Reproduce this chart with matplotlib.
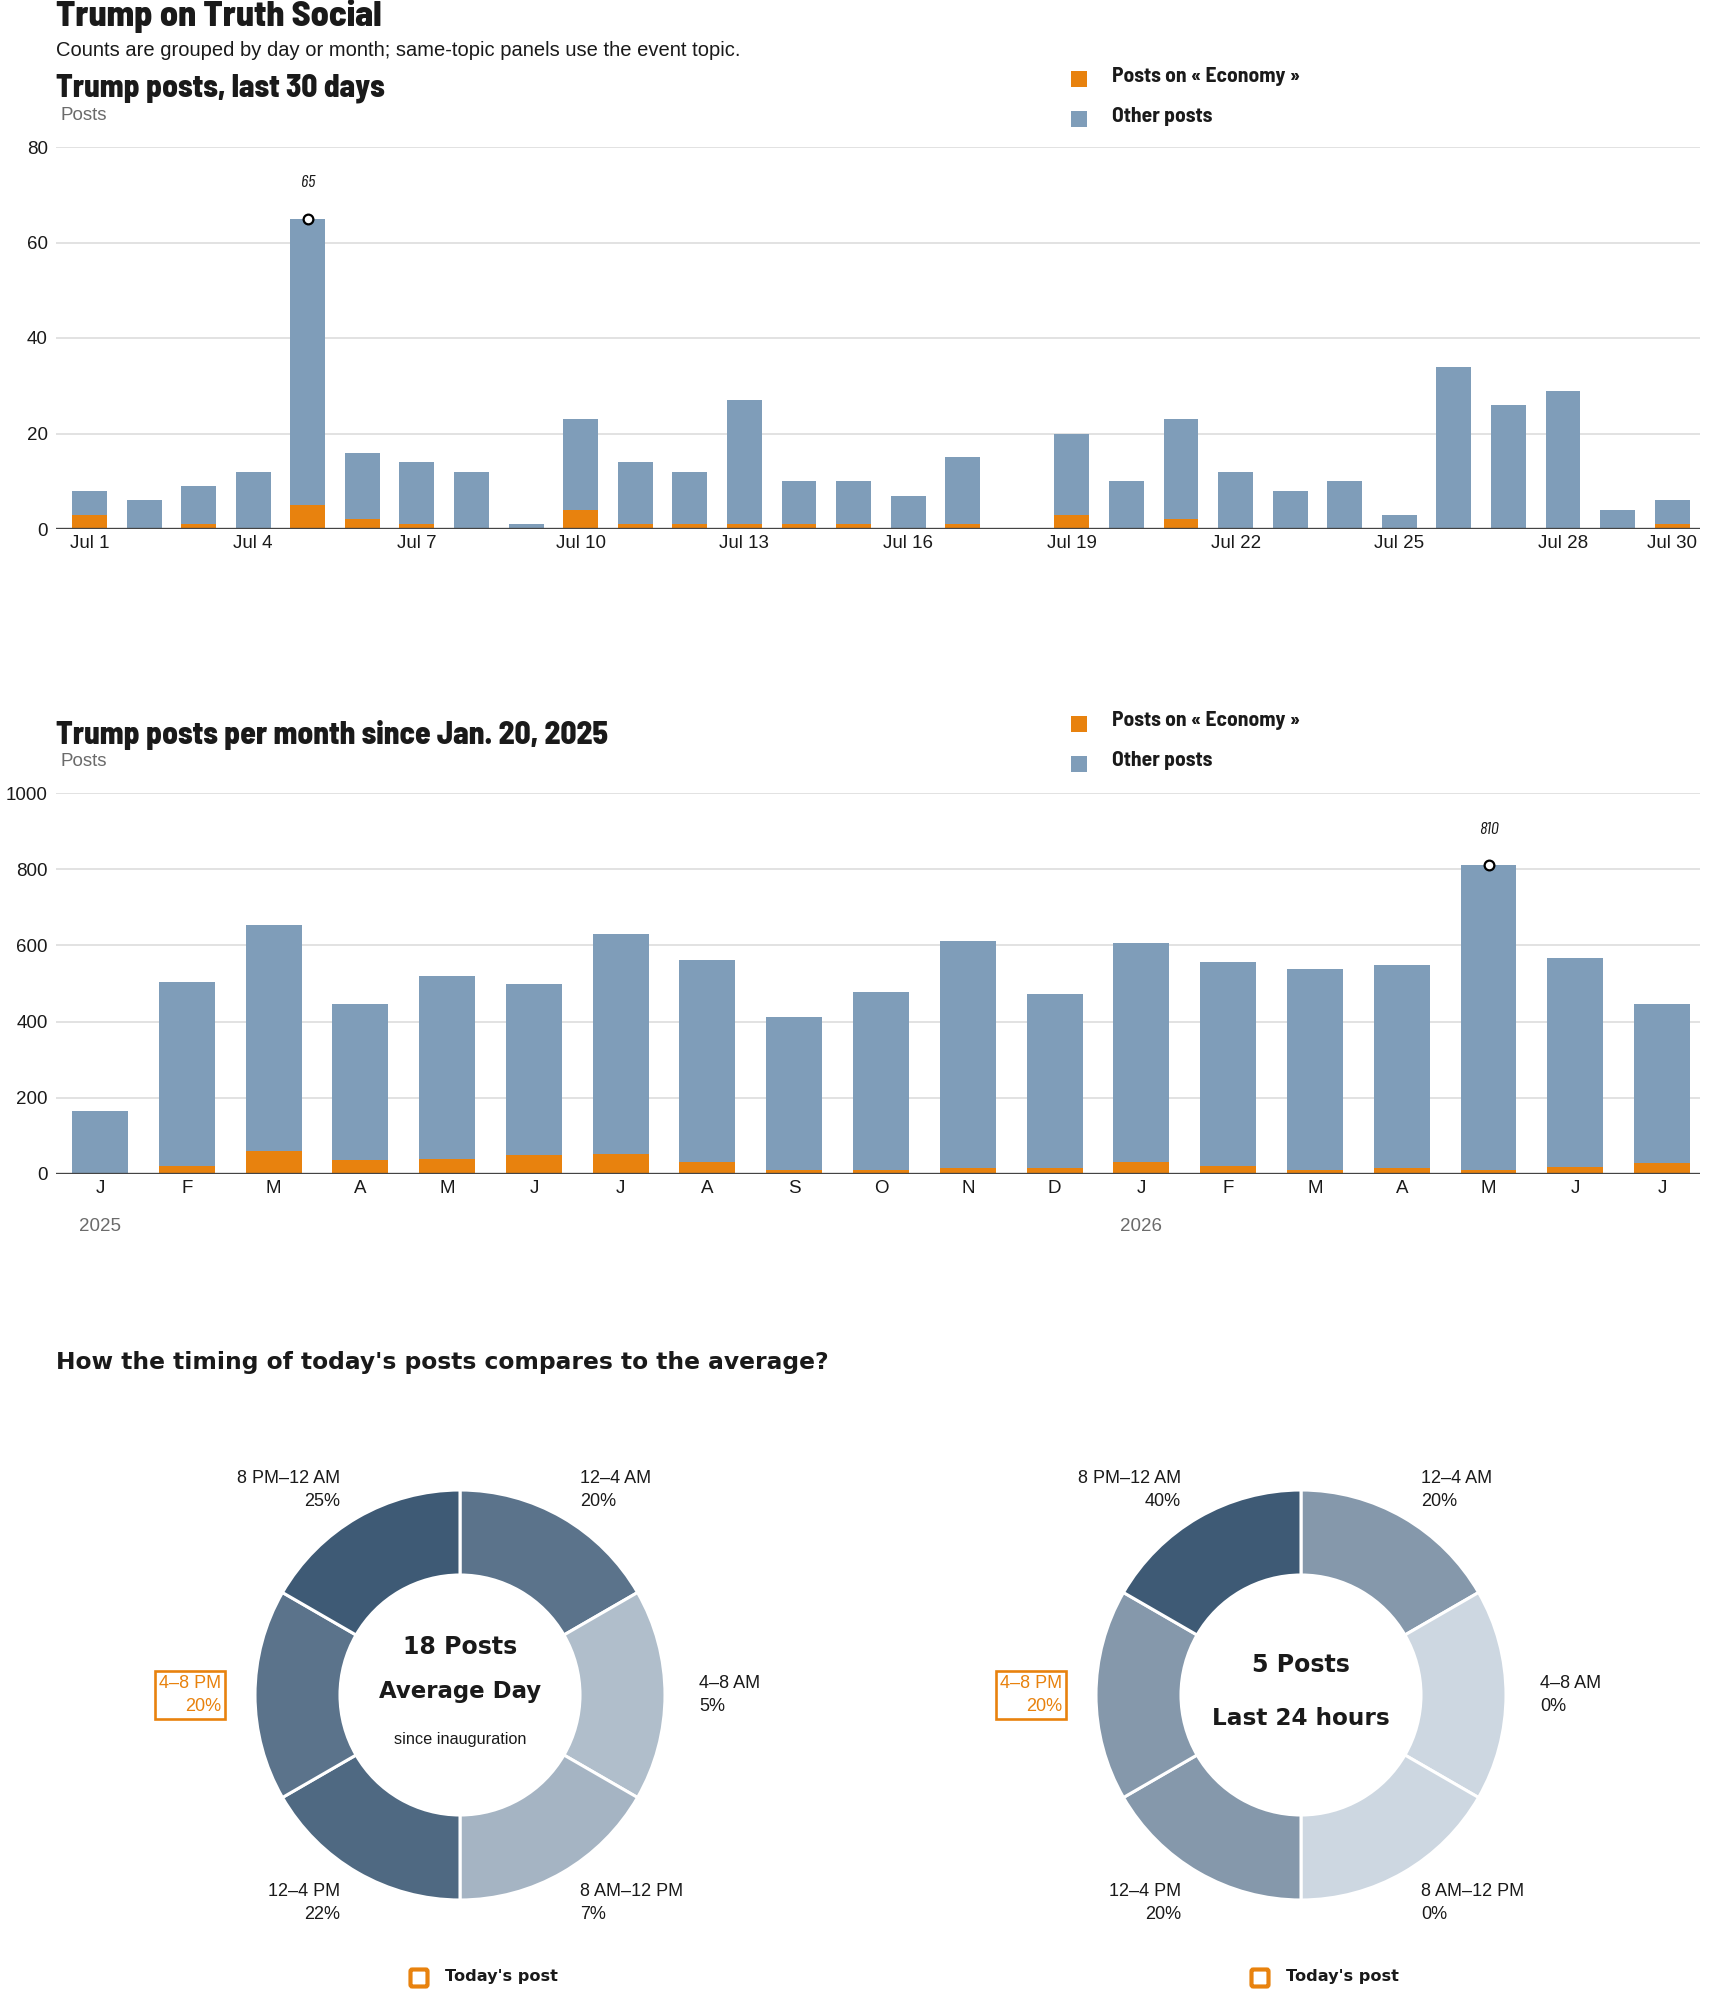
import numpy as np
import matplotlib
matplotlib.use('Agg')
import matplotlib.pyplot as plt
from matplotlib.colors import LinearSegmentedColormap, Normalize
from matplotlib.patches import Rectangle, FancyBboxPatch

# ---- data -------------------------------------------------------------
day_labels = [f'Jul {d}' for d in range(1, 31)]
day_economy = [3, 0, 1, 0, 5, 2, 1, 0, 0, 4, 1, 1, 1, 1, 1,
               0, 1, 0, 3, 0, 2, 0, 0, 0, 0, 0, 0, 0, 0, 1]
day_total = [8, 6, 9, 12, 65, 16, 14, 12, 1, 23, 14, 12, 27, 10, 10,
             7, 15, 0, 20, 10, 23, 12, 8, 10, 3, 34, 26, 29, 4, 6]
day_ticks = [0, 3, 6, 9, 12, 15, 18, 21, 24, 27, 29]

month_labels = ['J', 'F', 'M', 'A', 'M', 'J', 'J', 'A', 'S', 'O', 'N', 'D',
                'J', 'F', 'M', 'A', 'M', 'J', 'J']
month_economy = [2, 20, 60, 37, 39, 51, 53, 32, 10, 10, 17, 17,
                 32, 21, 10, 17, 10, 19, 30]
month_total = [165, 504, 654, 447, 520, 500, 631, 562, 412, 478, 612, 473,
               607, 557, 539, 549, 810, 568, 447]
year_marks = {0: '2025', 12: '2026'}

slots = ['12–4 AM', '4–8 AM', '8 AM–12 PM', '12–4 PM', '4–8 PM', '8 PM–12 AM']
avg_share = [20, 5, 7, 22, 20, 25]
today_share = [20, 0, 0, 20, 20, 40]
avg_posts = 18
today_posts = 5
today_slot = '4–8 PM'

# ---- style ------------------------------------------------------------
W, H = 1710, 1993
ORANGE = '#e8820e'
BLUE = '#7f9db9'
GRID = '#dddddd'
INK = '#1a1a1a'
GREY = '#6b6b6b'

COND = ['Barlow Semi Condensed', 'Barlow Condensed', 'Liberation Sans Narrow', 'DejaVu Sans']
ITAL = ['Barlow Condensed', 'Liberation Sans Narrow', 'DejaVu Sans']
REG = ['Liberation Sans', 'DejaVu Sans']
HEAVY = ['DejaVu Sans']
plt.rcParams['font.family'] = REG

fig = plt.figure(figsize=(W / 100, H / 100), dpi=100)


def fx(x):
    return x / W


def fy(y):
    return 1 - y / H


def ftext(x, y, s, **kw):
    kw.setdefault('va', 'center')
    kw.setdefault('color', INK)
    fig.text(fx(x), fy(y), s, **kw)


def legend_square(x, y, color, size=16):
    fig.add_artist(Rectangle((fx(x - size / 2), fy(y + size / 2)), size / W, size / H,
                             transform=fig.transFigure, color=color, lw=0))


def bar_axes(top, bottom, ymax, step):
    ax = fig.add_axes([fx(56), fy(bottom), (1700 - 56) / W, (bottom - top) / H])
    for s in ax.spines.values():
        s.set_visible(False)
    ax.set_ylim(0, ymax)
    ax.set_yticks(np.arange(0, ymax + 1, step))
    ax.yaxis.grid(True, color=GRID, lw=1.2)
    ax.set_axisbelow(True)
    ax.tick_params(axis='both', length=0, labelsize=13.5, colors=INK)
    ax.tick_params(axis='y', pad=6)
    ax.tick_params(axis='x', pad=4)
    ax.axhline(0, color='#444444', lw=2.4, zorder=5)
    return ax


def mark_peak(ax, values):
    pk = int(np.argmax(values))
    ax.plot(pk, values[pk], 'o', ms=7, mfc='white', mec='black', mew=1.6, zorder=6)
    ax.annotate(str(values[pk]), (pk, values[pk]), xytext=(0, 26),
                textcoords='offset points', ha='center', va='center',
                fontsize=13, style='italic', family=ITAL, color=INK)


def chart_header(y_title, y_posts, y_leg, title):
    ftext(56, y_title, title, fontsize=22.5, fontweight='extra bold', family=COND)
    ftext(60, y_posts, 'Posts', fontsize=13.5, color=GREY)
    legend_square(1079, y_leg, ORANGE)
    legend_square(1079, y_leg + 40, BLUE)
    ftext(1112, y_leg - 3, 'Posts on « Economy »', fontsize=15.5, fontweight='bold', family=COND)
    ftext(1112, y_leg + 37, 'Other posts', fontsize=15.5, fontweight='bold', family=COND)


# ---- header -----------------------------------------------------------
ftext(56, 16, 'Trump on Truth Social', fontsize=26, fontweight='extra bold', family=COND)
ftext(56, 51, 'Counts are grouped by day or month; same-topic panels use the event topic.',
      fontsize=14.5)

# ---- daily chart ------------------------------------------------------
chart_header(88, 116, 79, 'Trump posts, last 30 days')
ax1 = bar_axes(147, 529, 80, 20)
x1 = np.arange(len(day_total))
eco1 = np.array(day_economy)
other1 = np.array(day_total) - eco1
ax1.bar(x1, eco1, width=0.64, color=ORANGE, zorder=3)
ax1.bar(x1, other1, width=0.64, bottom=eco1, color=BLUE, zorder=3)
ax1.set_xlim(-0.614, 29.51)
ax1.set_xticks(day_ticks)
ax1.set_xticklabels([day_labels[i] for i in day_ticks])
mark_peak(ax1, day_total)

# ---- monthly chart ----------------------------------------------------
chart_header(735, 762, 724, 'Trump posts per month since Jan. 20, 2025')
ax2 = bar_axes(793, 1174, 1000, 200)
x2 = np.arange(len(month_total))
eco2 = np.array(month_economy)
other2 = np.array(month_total) - eco2
ax2.bar(x2, eco2, width=0.645, color=ORANGE, zorder=3)
ax2.bar(x2, other2, width=0.645, bottom=eco2, color=BLUE, zorder=3)
ax2.set_xlim(-0.507, 18.437)
ax2.set_xticks(x2)
ax2.set_xticklabels(month_labels)
for i, yr in year_marks.items():
    ax2.annotate(yr, (i, 0), xycoords=('data', 'axes fraction'), xytext=(0, -38),
                 textcoords='offset points', ha='center', va='center',
                 fontsize=13.5, color=GREY)
mark_peak(ax2, month_total)

# ---- donuts -----------------------------------------------------------
ftext(56, 1363, "How the timing of today's posts compares to the average?",
      fontsize=16.8, fontweight='bold', family=HEAVY)

R = 205.0
HALF = 290.0
cmap = LinearSegmentedColormap.from_list('share', ['#cdd7e1', '#3e5a75'])


def donut(cx, cy, shares, center_lines):
    ax = fig.add_axes([fx(cx - HALF), fy(cy + HALF), 2 * HALF / W, 2 * HALF / H])
    norm = Normalize(0, max(shares))
    colors = [cmap(norm(v)) for v in shares]
    ax.pie([1] * len(shares), radius=1, startangle=90, counterclock=False,
           colors=colors, wedgeprops=dict(width=(R - 120) / R, edgecolor='white', linewidth=2.2))
    lim = HALF / R
    ax.set_xlim(-lim, lim)
    ax.set_ylim(-lim, lim)
    ax.set_aspect('equal')
    ax.axis('off')
    for k, (name, v) in enumerate(zip(slots, shares)):
        ang = np.deg2rad(90 - 30 - 60 * k)
        c, s = np.cos(ang), np.sin(ang)
        if abs(s) > 0.6:
            x, y = 0.585 * np.sign(c), (1.0 if s > 0 else -1.015)
        else:
            x, y = 1.166 * np.sign(c), 0.0
        ha = 'left' if c > 0 else 'right'
        kw = {}
        col = INK
        if name == today_slot:
            col = ORANGE
            kw['bbox'] = dict(boxstyle='square,pad=0.22', fc='none', ec=ORANGE, lw=1.9)
        ax.text(x, y, f'{name}\n{v}%', ha=ha, va='center', multialignment=ha,
                fontsize=13, color=col, linespacing=1.45, **kw)
    for y, s, size, weight in center_lines:
        ax.text(0, y, s, ha='center', va='center', fontsize=size, fontweight=weight,
                color=INK, family=HEAVY if weight == 'bold' else REG)
    # today's post legend
    sq = 17
    fig.add_artist(FancyBboxPatch((fx(cx - 41 - sq / 2), fy(1978 + sq / 2)), sq / W, sq / H,
                                  boxstyle='round,pad=0,rounding_size=0.001',
                                  transform=fig.transFigure, fc='white', ec=ORANGE, lw=3))
    ftext(cx - 15, 1977, "Today's post", fontsize=11.6, fontweight='bold', family=HEAVY)


donut(460, 1695, avg_share,
      [(0.234, f'{avg_posts} Posts', 17, 'bold'),
       (0.015, 'Average Day', 16.5, 'bold'),
       (-0.215, 'since inauguration', 11.7, 'normal')])
donut(1301, 1695, today_share,
      [(0.146, f'{today_posts} Posts', 17, 'bold'),
       (-0.117, 'Last 24 hours', 16.7, 'bold')])

fig.savefig('out.png', dpi=100, facecolor='white')
